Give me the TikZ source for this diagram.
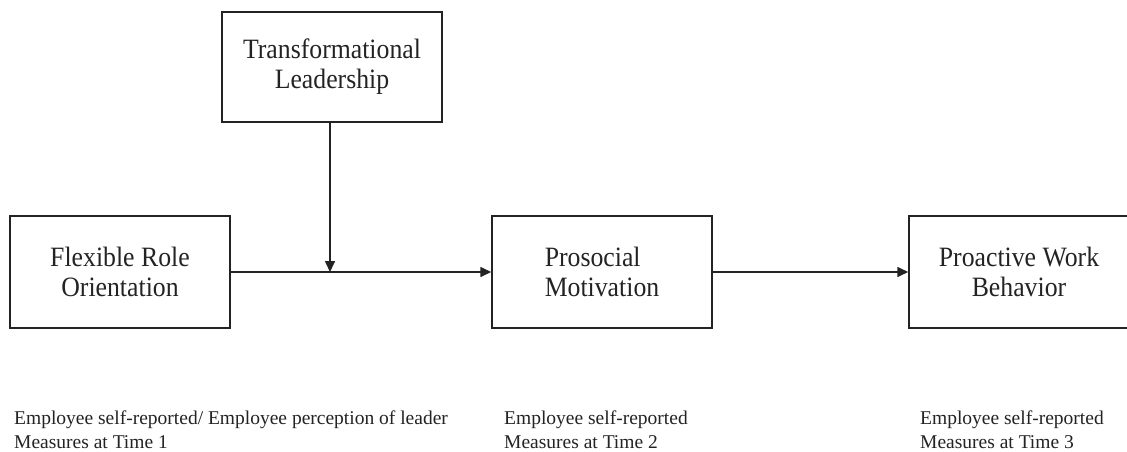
\documentclass[tikz,border=0pt]{standalone}
\usepackage{fontspec}
\setmainfont{Liberation Serif}
\newfontfamily\boxfont{Liberation Serif}[FakeStretch=0.92]
\usetikzlibrary{arrows.meta}
\definecolor{ink}{HTML}{232323}
\tikzset{
  construct/.style={draw=ink, line width=1.5pt, rectangle, minimum width=220pt,
    minimum height=112pt, inner sep=0pt, text=ink,
    font=\boxfont\fontsize{28}{30}\selectfont},
  link/.style={draw=ink, line width=1.6pt, -{Triangle[length=11pt,width=10pt]}},
  note/.style={anchor=base west, inner sep=0pt, text=ink,
    font=\fontsize{19.5}{23.5}\selectfont}
}
\begin{document}
\begin{tikzpicture}[x=1pt, y=-1pt]
  \useasboundingbox (0,0) rectangle (1127,451);
  \clip (0,0) rectangle (1127,451);
  % constructs
  \node[construct, minimum height=110pt, align=center] (tl) at (332,67) {Transformational\\Leadership};
  \node[construct, align=center] (fro) at (120,272) {Flexible Role\\Orientation};
  \node[construct, align=left] (pm) at (602,272) {Prosocial\\Motivation};
  \node[construct, align=center] (pwb) at (1019,272) {Proactive Work\\Behavior};
  % paths
  \coordinate (mod) at (330,272);
  \draw[link] (fro.east) -- (pm.west);
  \draw[link] (tl.south -| mod) -- (mod);
  \draw[link] (pm.east) -- (pwb.west);
  % measurement notes
  \node[note] (n1a) at (14,424.5) {Employee self-reported/ Employee perception of leader};
  \node[note] (n1b) at (14,448) {Measures at Time 1};
  \node[note] (n2a) at (504,424.5) {Employee self-reported};
  \node[note] (n2b) at (504,448) {Measures at Time 2};
  \node[note] (n3a) at (920,424.5) {Employee self-reported};
  \node[note] (n3b) at (920,448) {Measures at Time 3};
\end{tikzpicture}
\end{document}
